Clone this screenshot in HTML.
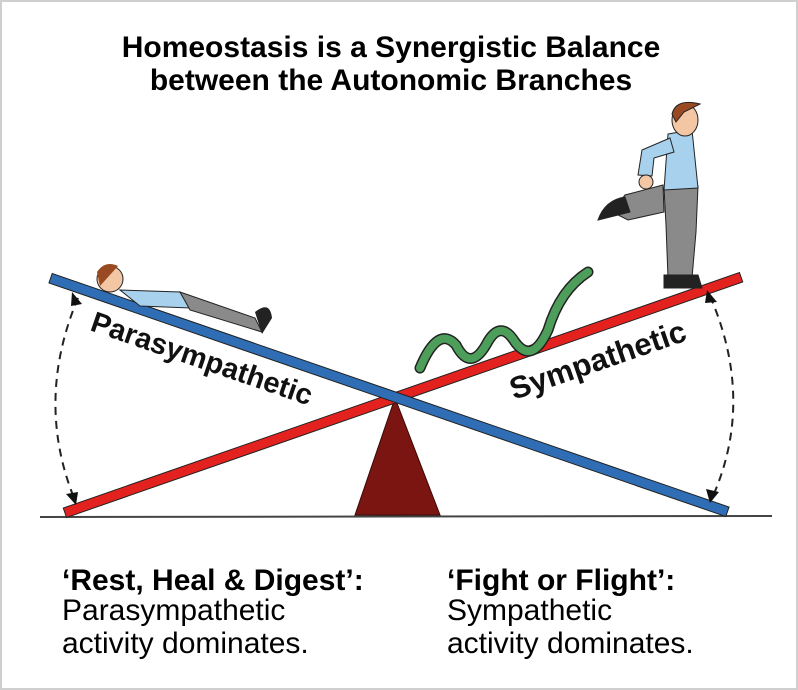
<!DOCTYPE html>
<html><head><meta charset="utf-8"><style>
body{margin:0;background:#fff;}
svg{display:block;font-family:"Liberation Sans",Arial,sans-serif;}
</style></head><body>
<svg width="798" height="690" viewBox="0 0 798 690">
<rect x="1" y="1" width="796" height="688" fill="#fff" stroke="#cfcfcf" stroke-width="2"/>
<text x="391" y="57" font-size="30" font-weight="bold" text-anchor="middle">Homeostasis is a Synergistic Balance</text>
<text x="391" y="90" font-size="30" font-weight="bold" text-anchor="middle">between the Autonomic Branches</text>
<line x1="40" y1="517" x2="772" y2="516" stroke="#444" stroke-width="2"/>
<polygon points="395,398 355,515 440,515" fill="#7a1512" stroke="#3a0a08" stroke-width="1"/>
<g transform="translate(403,395) rotate(-19.2)">
<rect x="-358" y="-5" width="716" height="10" fill="#e3221f" stroke="#222" stroke-width="1"/>
</g>
<g transform="translate(389,395) rotate(19.04)">
<rect x="-358" y="-5" width="716" height="10" fill="#2f6db5" stroke="#222" stroke-width="1"/>
</g>
<path d="M78,298 Q35,400 74,498" fill="none" stroke="#222" stroke-width="2" stroke-dasharray="8,6"/>
<polygon points="72,292 82,304 71,306" fill="#111"/>
<polygon points="76,505 66,494 78,492" fill="#111"/>
<path d="M710,296 Q755,400 713,496" fill="none" stroke="#222" stroke-width="2" stroke-dasharray="8,6"/>
<polygon points="707,290 717,302 705,303" fill="#111"/>
<polygon points="710,503 706,489 719,492" fill="#111"/>
<text transform="translate(89,330) rotate(19)" font-size="29" font-weight="bold" fill="#111">Parasympathetic</text>
<text transform="translate(514,400) rotate(-19)" font-size="31" font-weight="bold" fill="#111">Sympathetic</text>
<g>
<path d="M120,290 L180,292 L190,308 L140,306 Z" fill="#a7d1ec" stroke="#222"/>
<path d="M180,292 L255,318 L262,332 L190,310 Z" fill="#8a8a8a" stroke="#222"/>
<path d="M255,312 Q270,300 272,318 L262,334 Z" fill="#222"/>
<circle cx="110" cy="279" r="13" fill="#f3c6a4" stroke="#222"/>
<path d="M97,272 Q105,260 118,266 L100,286 Z" fill="#9a4a22"/>
</g>
<g stroke="#222">
<path d="M663,185 L625,195 L612,212 L628,220 L664,212 Z" fill="#8a8a8a"/>
<path d="M598,220 Q605,200 625,197 L630,212 Z" fill="#222"/>
<path d="M664,188 L698,186 L696,232 L692,278 L668,278 L666,225 Z" fill="#8a8a8a"/>
<path d="M664,275 L698,275 L702,288 L664,288 Z" fill="#222"/>
<path d="M668,134 L692,130 L698,188 L664,190 Z" fill="#a7d1ec"/>
<path d="M670,138 L642,150 L638,175 L652,176 L654,158 L674,152 Z" fill="#a7d1ec"/>
<circle cx="646" cy="182" r="7" fill="#f3c6a4"/>
<ellipse cx="685" cy="120" rx="13" ry="16" fill="#f3c6a4"/>
<path d="M672,114 Q676,98 700,104 L684,112 L676,122 Z" fill="#9a4a22"/>
</g>
<path d="M420,368 Q438,325 456,345 Q470,372 486,345 Q500,318 515,342 Q532,365 548,330 Q560,290 588,272" fill="none" stroke="#222" stroke-width="11" stroke-linecap="round"/>
<path d="M420,368 Q438,325 456,345 Q470,372 486,345 Q500,318 515,342 Q532,365 548,330 Q560,290 588,272" fill="none" stroke="#4d9e5a" stroke-width="8" stroke-linecap="round"/>
<text x="62" y="590" font-size="30" font-weight="bold">‘Rest, Heal &amp; Digest’:</text>
<text x="62" y="620" font-size="30">Parasympathetic</text>
<text x="62" y="653" font-size="30">activity dominates.</text>
<text x="447" y="590" font-size="30" font-weight="bold">‘Fight or Flight’:</text>
<text x="447" y="620" font-size="30">Sympathetic</text>
<text x="447" y="653" font-size="30">activity dominates.</text>
</svg>
</body></html>
